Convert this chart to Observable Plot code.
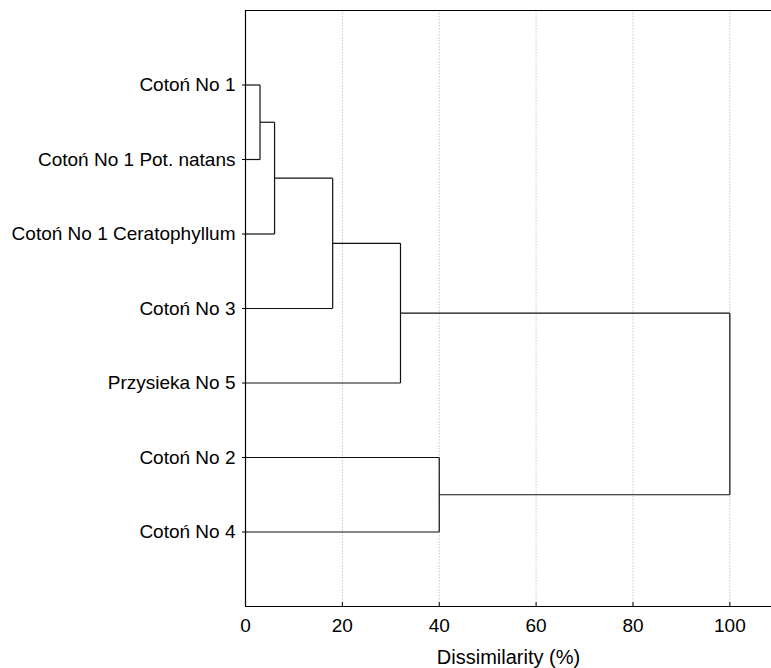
<!DOCTYPE html>
<html><head><meta charset="utf-8">
<script src="https://cdn.jsdelivr.net/npm/d3@7"></script>
<script src="https://cdn.jsdelivr.net/npm/@observablehq/plot@0.6"></script>
<style>body{margin:0;background:#fff}</style>
</head><body><div id="chart"></div>
<script>
// Leaves, top to bottom
const leaves = ["Cotoń No 1", "Cotoń No 1 Pot. natans", "Cotoń No 1 Ceratophyllum", "Cotoń No 3", "Przysieka No 5", "Cotoń No 2", "Cotoń No 4"];
// Merges: node ids 0..6 are leaves, 7.. are clusters in merge order
const mergeLeft = [0, 7, 8, 9, 5, 10];
const mergeRight = [1, 2, 3, 4, 6, 11];
const mergeHeight = [3, 6, 18, 32, 40, 100];
const xTicks = [0, 20, 40, 60, 80, 100];
const gridTicks = [20, 40, 60, 80, 100];
const xLabel = "Dissimilarity (%)";

const nodes = leaves.map((name, i) => ({x: 0, y: i + 1}));
const segments = [];
mergeHeight.forEach((h, k) => {
  const a = nodes[mergeLeft[k]], b = nodes[mergeRight[k]];
  segments.push({x1: a.x, y1: a.y, x2: h, y2: a.y});
  segments.push({x1: b.x, y1: b.y, x2: h, y2: b.y});
  segments.push({x1: h, y1: a.y, x2: h, y2: b.y});
  nodes.push({x: h, y: (a.y + b.y) / 2});
});
const leafPos = leaves.map((d, i) => i + 1);

const chart = Plot.plot({
  width: 771, height: 668,
  marginLeft: 245, marginRight: 0, marginTop: 10, marginBottom: 62,
  style: {fontFamily: "'Liberation Sans', Arial, sans-serif", background: "#fff", color: "#000"},
  x: {domain: [0, 108.6]},
  y: {domain: [0, 8], reverse: true},
  marks: [
    Plot.ruleX(gridTicks, {stroke: "#c8c8c8", strokeDasharray: "1.5,1.5"}),
    Plot.link(segments, {x1: "x1", y1: "y1", x2: "x2", y2: "y2", stroke: "#111", strokeWidth: 1.2}),
    Plot.ruleY([0, 8], {stroke: "#000", strokeWidth: 1.2}),
    Plot.ruleX([0], {stroke: "#000", strokeWidth: 1.2}),
    Plot.axisX(xTicks, {tickSize: -4, tickPadding: 16, fontSize: 19, label: null}),
    Plot.axisY(leafPos, {tickSize: 3, tickPadding: 7, fontSize: 19, tickFormat: d => leaves[d - 1], label: null}),
    Plot.text([xLabel], {frameAnchor: "bottom", dy: 51, fontSize: 20, lineAnchor: "middle", text: d => d})
  ]
});
document.getElementById("chart").appendChild(chart);
</script>
</body></html>
